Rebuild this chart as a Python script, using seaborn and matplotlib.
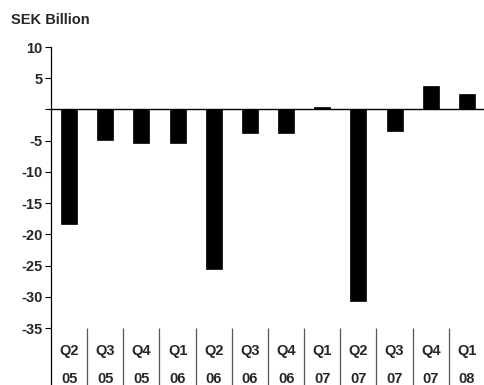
import numpy as np
import pandas as pd
import matplotlib
matplotlib.use("Agg")
import matplotlib.pyplot as plt
import seaborn as sns

quarters = ['Q2', 'Q3', 'Q4', 'Q1', 'Q2', 'Q3', 'Q4', 'Q1', 'Q2', 'Q3', 'Q4', 'Q1']
years = ['05', '05', '05', '06', '06', '06', '06', '07', '07', '07', '07', '08']
values = [-18.4, -4.9, -5.3, -5.3, -25.6, -3.7, -3.7, 0.4, -30.6, -3.5, 3.8, 2.5]
yticks = [-35, -30, -25, -20, -15, -10, -5, 0, 5, 10]
ytick_labels = ['-35', '-30', '-25', '-20', '-15', '-10', '-5', '', '5', '10']

sns.set_style("white")
plt.rcParams['font.family'] = ['Liberation Sans', 'DejaVu Sans']
plt.rcParams['font.weight'] = 'bold'

df = pd.DataFrame({'period': [f'{q} {y}' for q, y in zip(quarters, years)],
                   'value': values})

fig = plt.figure(figsize=(4.85, 3.85), dpi=100)
ax = fig.add_axes([51 / 485, 0, 434 / 485, 338 / 385])

sns.barplot(data=df, x='period', y='value', color='black', width=0.44,
            saturation=1, edgecolor='black', linewidth=0.5, ax=ax)

ymin = -44.1
ax.set_ylim(ymin, 10)
ax.set_xlim(-0.5, len(values) - 0.5)
ax.axhline(0, color='black', lw=1.0, zorder=1)

# y axis
ax.set_yticks(yticks)
ax.set_yticklabels(ytick_labels, fontsize=10.5, fontweight='bold')
ax.tick_params(axis='y', direction='out', length=4, width=0.8, color='black', pad=2, left=True)
ax.set_xticks([])
ax.set_xlabel('')
ax.set_ylabel('')
for s in ['top', 'right', 'bottom']:
    ax.spines[s].set_visible(False)
ax.spines['left'].set_color('black')
ax.spines['left'].set_linewidth(0.9)

# category labels under the chart
for i, (q, y) in enumerate(zip(quarters, years)):
    ax.text(i, -38.6, q, ha='center', va='center', fontsize=10.5, fontweight='bold')
    ax.text(i, -43.1, y, ha='center', va='center', fontsize=10.5, fontweight='bold')
for i in range(len(values) - 1):
    ax.vlines(i + 0.5, ymin, -35, color='#555555', lw=0.9)

fig.text(11 / 485, 1 - 20 / 385, 'SEK Billion', ha='left', va='center',
         fontsize=10.5, fontweight='bold')

fig.savefig('out.png', dpi=100)
